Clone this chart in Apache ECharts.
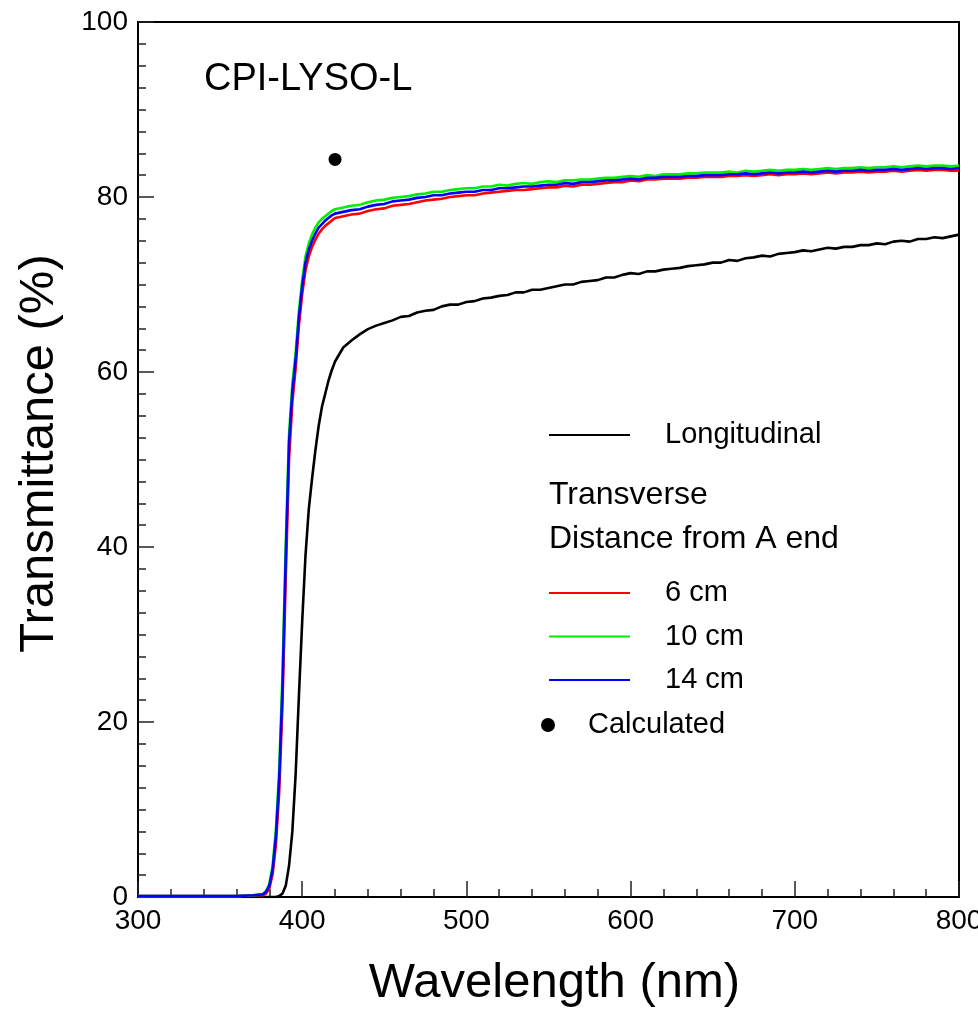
<!DOCTYPE html>
<html>
<head>
<meta charset="utf-8">
<title>CPI-LYSO-L transmittance</title>
<script src="https://cdn.jsdelivr.net/npm/echarts@6/dist/echarts.min.js"></script>
<style>
  html, body { margin: 0; padding: 0; background: #fff; }
  #chart { width: 978px; height: 1012px; }
</style>
</head>
<body>
<div id="chart"></div>
<script>
// Wavelength grid (nm): coarse in the opaque region, fine across the absorption edge, 5 nm above it
const wavelength = [
  300, 310, 320, 330, 340, 350, 360, 370, 376,
  378, 380, 382, 384, 386, 388, 390, 392, 394, 396, 398,
  400, 402, 404, 406, 408, 410, 412, 414, 416, 418, 420,
  425, 430, 435, 440, 445, 450, 455, 460, 465, 470,
  475, 480, 485, 490, 495, 500, 505, 510, 515, 520,
  525, 530, 535, 540, 545, 550, 555, 560, 565, 570,
  575, 580, 585, 590, 595, 600, 605, 610, 615, 620,
  625, 630, 635, 640, 645, 650, 655, 660, 665, 670,
  675, 680, 685, 690, 695, 700, 705, 710, 715, 720,
  725, 730, 735, 740, 745, 750, 755, 760, 765, 770,
  775, 780, 785, 790, 795, 800
];

// Transmittance (%) measured along the crystal
const longitudinal = [
  0, 0, 0, 0, 0, 0, 0, 0, 0,
  0.0, 0.0, 0.0, 0.0, 0.1, 0.4, 1.3, 3.6, 7.5, 14.0, 23.0,
  31.5, 39.0, 44.3, 47.8, 51.0, 53.8, 56.0, 57.5, 59.0, 60.2, 61.2,
  62.8, 63.6, 64.3, 64.9, 65.3, 65.6, 65.9, 66.3, 66.4, 66.8,
  67.0, 67.1, 67.5, 67.7, 67.7, 68.0, 68.1, 68.4, 68.5, 68.7,
  68.8, 69.1, 69.1, 69.4, 69.4, 69.6, 69.8, 70.0, 70.0, 70.3,
  70.4, 70.5, 70.8, 70.8, 71.1, 71.3, 71.2, 71.5, 71.5, 71.7,
  71.8, 71.9, 72.1, 72.2, 72.3, 72.5, 72.5, 72.8, 72.7, 73.0,
  73.1, 73.3, 73.2, 73.5, 73.6, 73.7, 73.9, 73.8, 74.0, 74.2,
  74.1, 74.3, 74.3, 74.5, 74.5, 74.7, 74.6, 74.9, 75.0, 74.9,
  75.2, 75.2, 75.4, 75.3, 75.5, 75.7
];

// Transverse transmittance (%) at 6 cm from the A end
const transverse6 = [
  0.1, 0.1, 0.1, 0.1, 0.1, 0.1, 0.1, 0.2, 0.2,
  0.4, 1.0, 2.6, 6.0, 12.0, 22.0, 36.5, 50.0, 56.5, 60.4, 65.3,
  68.9, 71.6, 73.2, 74.3, 75.1, 75.8, 76.3, 76.7, 77.0, 77.3, 77.6,
  77.8, 78.0, 78.1, 78.4, 78.6, 78.7, 79.0, 79.1, 79.2, 79.4,
  79.6, 79.7, 79.8, 80.0, 80.1, 80.2, 80.2, 80.4, 80.5, 80.6,
  80.7, 80.8, 80.8, 80.9, 81.0, 81.1, 81.1, 81.3, 81.2, 81.4,
  81.4, 81.5, 81.6, 81.7, 81.7, 81.9, 81.8, 82.0, 82.0, 82.1,
  82.1, 82.1, 82.2, 82.2, 82.3, 82.3, 82.3, 82.4, 82.4, 82.5,
  82.4, 82.5, 82.6, 82.5, 82.6, 82.6, 82.7, 82.6, 82.7, 82.8,
  82.7, 82.8, 82.8, 82.9, 82.8, 82.9, 82.9, 83.0, 82.9, 83.0,
  83.1, 83.0, 83.1, 83.1, 83.0, 83.0
];

// Transverse transmittance (%) at 10 cm from the A end
const transverse10 = [
  0.1, 0.1, 0.1, 0.1, 0.1, 0.1, 0.1, 0.2, 0.3,
  0.7, 1.5, 3.6, 7.8, 14.5, 25.5, 40.5, 53.0, 58.6, 62.2, 67.0,
  70.5, 73.2, 74.7, 75.7, 76.5, 77.1, 77.5, 77.8, 78.1, 78.4, 78.6,
  78.8, 79.0, 79.1, 79.4, 79.6, 79.7, 79.9, 80.0, 80.1, 80.3,
  80.4, 80.6, 80.6, 80.8, 80.9, 81.0, 81.0, 81.2, 81.2, 81.4,
  81.3, 81.5, 81.6, 81.5, 81.7, 81.8, 81.7, 81.9, 81.9, 82.0,
  82.0, 82.1, 82.2, 82.2, 82.3, 82.4, 82.3, 82.5, 82.4, 82.6,
  82.6, 82.6, 82.7, 82.7, 82.8, 82.8, 82.8, 82.9, 82.8, 83.0,
  82.9, 83.0, 83.1, 83.0, 83.1, 83.1, 83.2, 83.1, 83.2, 83.3,
  83.2, 83.3, 83.3, 83.4, 83.3, 83.4, 83.4, 83.5, 83.4, 83.5,
  83.6, 83.5, 83.6, 83.6, 83.5, 83.6
];

// Transverse transmittance (%) at 14 cm from the A end
const transverse14 = [
  0.1, 0.1, 0.1, 0.1, 0.1, 0.1, 0.1, 0.2, 0.3,
  0.6, 1.3, 3.2, 7.0, 13.5, 24.0, 39.0, 52.0, 57.8, 61.4, 66.3,
  69.8, 72.5, 74.0, 75.0, 75.8, 76.5, 76.9, 77.3, 77.6, 77.9, 78.1,
  78.3, 78.5, 78.6, 78.9, 79.1, 79.2, 79.5, 79.6, 79.7, 79.9,
  80.0, 80.2, 80.2, 80.4, 80.5, 80.6, 80.6, 80.8, 80.8, 81.0,
  81.0, 81.1, 81.2, 81.2, 81.3, 81.4, 81.4, 81.6, 81.5, 81.7,
  81.7, 81.8, 81.9, 81.9, 82.0, 82.1, 82.0, 82.2, 82.2, 82.3,
  82.3, 82.3, 82.4, 82.4, 82.5, 82.5, 82.5, 82.6, 82.6, 82.7,
  82.6, 82.7, 82.8, 82.7, 82.8, 82.8, 82.9, 82.8, 82.9, 83.0,
  82.9, 83.0, 83.0, 83.1, 83.0, 83.1, 83.1, 83.2, 83.1, 83.2,
  83.3, 83.2, 83.3, 83.3, 83.2, 83.3
];

// Calculated theoretical limit: [wavelength nm, transmittance %]
const calculated = [[420, 84.3]];

const xTicks = { min: 300, max: 800, interval: 100 };
const yTicks = { min: 0, max: 100, interval: 20 };

const FONT = '"Liberation Sans", Arial, Helvetica, sans-serif';

function pairs(xs, ys) {
  return xs.map((x, i) => [x, ys[i]]);
}

function lineSeries(name, values, color) {
  return {
    name: name,
    type: 'line',
    data: pairs(wavelength, values),
    symbol: 'none',
    showSymbol: false,
    smooth: false,
    clip: true,
    color: color,
    lineStyle: { color: color, width: 2.6 },
    emphasis: { disabled: true }
  };
}

const chart = echarts.init(document.getElementById('chart'), null, { renderer: 'canvas' });

const legendText = { color: '#000', fontSize: 29, fontFamily: FONT, lineHeight: 30 };

chart.setOption({
  backgroundColor: '#fff',
  animation: false,
  title: {
    text: 'CPI-LYSO-L',
    left: 204,
    top: 61,
    padding: 0,
    textStyle: { color: '#000', fontSize: 38, fontWeight: 'normal', fontFamily: FONT }
  },
  grid: {
    left: 138,
    right: 19,
    top: 22,
    bottom: 115,
    outerBoundsMode: 'none',
    containLabel: false,
    show: true,
    borderColor: '#000',
    borderWidth: 2,
    backgroundColor: 'transparent'
  },
  legend: [
    {
      data: [{ name: 'Longitudinal', icon: 'rect' }],
      left: 549,
      top: 420,
      padding: 0,
      orient: 'vertical',
      itemWidth: 81,
      itemHeight: 2,
      selectedMode: false,
      textStyle: Object.assign({ padding: [0, 0, 0, 30] }, legendText)
    },
    {
      data: [
        { name: '6 cm', icon: 'rect' },
        { name: '10 cm', icon: 'rect' },
        { name: '14 cm', icon: 'rect' }
      ],
      left: 549,
      top: 578,
      padding: 0,
      orient: 'vertical',
      itemWidth: 81,
      itemHeight: 2,
      itemGap: 13.5,
      selectedMode: false,
      textStyle: Object.assign({ padding: [0, 0, 0, 30] }, legendText)
    },
    {
      data: [{ name: 'Calculated', icon: 'circle' }],
      left: 541,
      top: 710,
      padding: 0,
      orient: 'vertical',
      itemWidth: 14,
      itemHeight: 14,
      selectedMode: false,
      itemStyle: { color: '#000', opacity: 1 },
      textStyle: Object.assign({ padding: [0, 0, 0, 28] }, legendText)
    }
  ],
  graphic: [
    {
      type: 'text',
      x: 549,
      y: 495,
      style: {
        text: 'Transverse',
        fill: '#000',
        font: '32px ' + FONT,
        verticalAlign: 'middle'
      }
    },
    {
      type: 'text',
      x: 549,
      y: 539,
      style: {
        text: 'Distance from A end',
        fill: '#000',
        font: '32px ' + FONT,
        verticalAlign: 'middle'
      }
    }
  ],
  xAxis: {
    type: 'value',
    min: xTicks.min,
    max: xTicks.max,
    interval: xTicks.interval,
    name: 'Wavelength (nm)',
    nameLocation: 'middle',
    nameGap: 62,
    nameTextStyle: { color: '#000', fontSize: 49, fontFamily: FONT, padding: [0, 0, 0, 12] },
    axisLine: { show: true, lineStyle: { color: '#000', width: 2 } },
    axisTick: { show: true, inside: true, length: 16, lineStyle: { color: '#222', width: 1.5 } },
    minorTick: { show: true, splitNumber: 5, length: 8, lineStyle: { color: '#222', width: 1.5 } },
    splitLine: { show: false },
    minorSplitLine: { show: false },
    axisLabel: { color: '#000', fontSize: 28, fontFamily: FONT, margin: 10 }
  },
  yAxis: {
    type: 'value',
    min: yTicks.min,
    max: yTicks.max,
    interval: yTicks.interval,
    name: 'Transmittance (%)',
    nameLocation: 'middle',
    nameGap: 74,
    nameRotate: 90,
    nameTextStyle: { color: '#000', fontSize: 49, fontFamily: FONT, padding: [0, 0, 0, 12] },
    axisLine: { show: true, lineStyle: { color: '#000', width: 2 } },
    axisTick: { show: true, inside: true, length: 16, lineStyle: { color: '#222', width: 1.5 } },
    minorTick: { show: true, splitNumber: 8, length: 8, lineStyle: { color: '#222', width: 1.5 } },
    splitLine: { show: false },
    minorSplitLine: { show: false },
    axisLabel: { color: '#000', fontSize: 28, fontFamily: FONT, margin: 10 }
  },
  series: [
    lineSeries('Longitudinal', longitudinal, '#000000'),
    lineSeries('6 cm', transverse6, '#ff0000'),
    lineSeries('10 cm', transverse10, '#00ee00'),
    lineSeries('14 cm', transverse14, '#0000ff'),
    {
      name: 'Calculated',
      type: 'scatter',
      data: calculated,
      symbol: 'circle',
      symbolSize: 13,
      itemStyle: { color: '#000', opacity: 1 },
      emphasis: { disabled: true }
    }
  ]
});
</script>
</body>
</html>
